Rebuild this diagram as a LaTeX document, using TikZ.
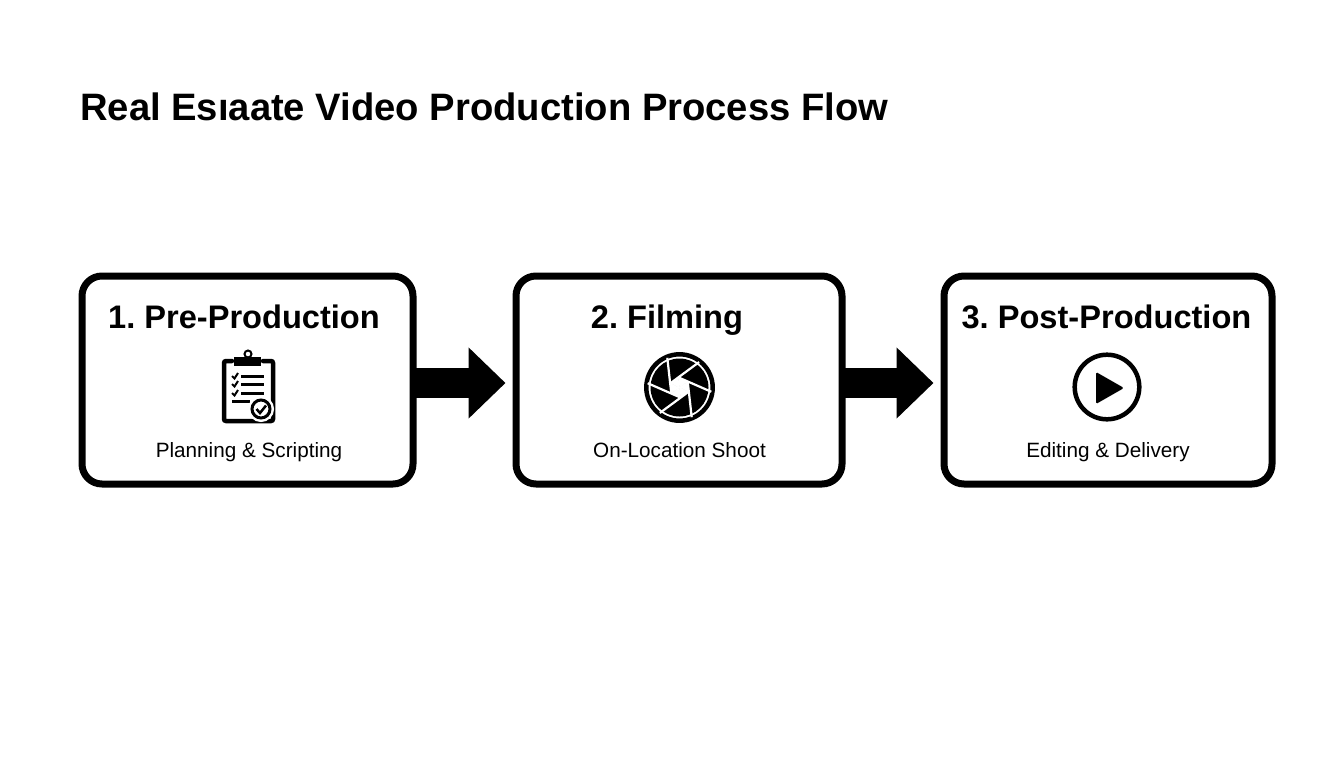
\documentclass[tikz,border=0pt]{standalone}
\usepackage{fontspec}
\setmainfont{Liberation Sans}
\usetikzlibrary{arrows.meta}

\begin{document}
\frenchspacing
\begin{tikzpicture}[x=1pt, y=-1pt]
	\tikzset{
		every node/.style={
			align=center,
			inner sep=0
		},
		stage/.style={
			draw=black,
			fill=white,
			line width=7pt,
			rounded corners=20pt,
			minimum height=208pt
		},
		heading/.style={
			anchor=base west,
			font=\bfseries\fontsize{38.2}{40}\selectfont
		},
		stagename/.style={
			anchor=base,
			font=\bfseries\fontsize{32.6}{36}\selectfont
		},
		stagenote/.style={
			anchor=base,
			font=\fontsize{20.7}{24}\selectfont
		},
		line/.style={
			-{Triangle[length=37pt,width=69pt]},
			line width=30pt,
			shorten <=-3pt,
			shorten >=7pt
		},
		icon/.style={
			line width=4.5pt,
			line cap=round
		}
	}

	\useasboundingbox (0, 0) rectangle (1344, 768);

	\node[heading] (title) at (80, 120)
		{Real Esıaate Video Production Process Flow};

	\node[stage, minimum width=331pt] (pre) at (247.5, 380) {};
	\node[stage, minimum width=326pt] (film) at (679, 380) {};
	\node[stage, minimum width=328pt] (post) at (1108, 380) {};

	\node[stagename] (pre-name) at (244, 328)
		{1. Pre-Production};
	\node[stagename] (film-name) at (667, 328)
		{2. Filming};
	\node[stagename] (post-name) at (1106.5, 328)
		{3. Post-Production};

	\node[stagenote] (pre-note) at (249, 457)
		{Planning \& Scripting};
	\node[stagenote] (film-note) at (679.5, 457)
		{On-Location Shoot};
	\node[stagenote] (post-note) at (1108, 457)
		{Editing \& Delivery};

	\draw[line] ([yshift=-3pt]pre.east) -- ([yshift=-3pt]film.west);
	\draw[line] ([yshift=-3pt]film.east) -- ([yshift=-3pt]post.west);

	% clipboard
	\draw[icon, rounded corners=2pt] (232, 361) -- (224, 361) -- (224, 421)
		-- (273, 421) -- (273, 361) -- (263, 361);
	\fill (234, 357) rectangle (261, 366);
	\draw[line width=2pt, fill=white] (248, 354) circle (3.5);
	\foreach \y in {376, 384, 393} {
		\draw[line width=3pt] (241, \y) -- (264, \y);
		\draw[line width=2pt] (232, \y) -- (234.5, \y + 2.5) -- (238, \y - 3);
	}
	\draw[line width=3pt] (232, 401) -- (250, 401);
	\draw[line width=6pt, white] (261, 409) circle (10);
	\draw[line width=3pt, fill=white] (261, 409) circle (9);
	\draw[line width=2.5pt] (256.5, 409) -- (260, 413) -- (266, 405.5);

	% shutter
	\draw[line width=4.5pt] (679.5, 387.5) circle (33.2);
	\fill (679.5, 387.5) circle (29);
	\foreach \a in {0, 60, ..., 300} {
		\begin{scope}[shift={(679.5, 387.5)}, rotate=\a]
			\filldraw[white, line width=0.5pt] (0, 0) -- (-8.2, 6) -- (-9.3, -4.1) -- cycle;
			\draw[white, line width=2.2pt] (-12.2, -29.7) -- (-8.2, 6);
		\end{scope}
	}

	% play
	\draw[line width=4.5pt] (1107, 387) circle (32.3);
	\fill[rounded corners=1.5pt] (1096, 372) -- (1124, 388) -- (1096, 404) -- cycle;

\end{tikzpicture}
\end{document}
